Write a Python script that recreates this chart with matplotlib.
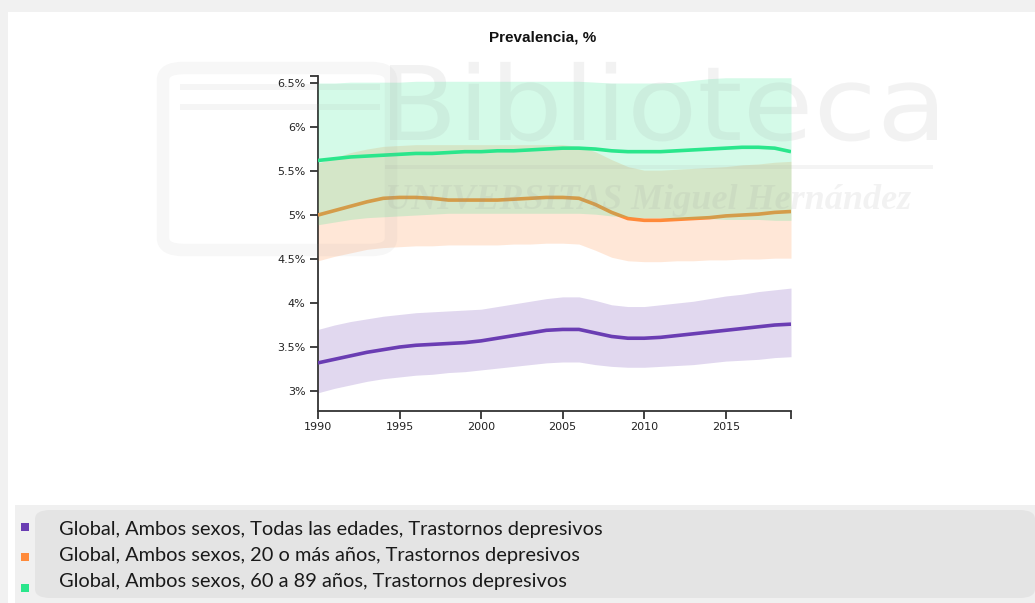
import matplotlib
matplotlib.use("Agg")
import matplotlib.pyplot as plt
from matplotlib.patches import FancyBboxPatch, Rectangle, PathPatch
from matplotlib.textpath import TextPath
from matplotlib.font_manager import FontProperties
from matplotlib.transforms import Affine2D
from matplotlib.ticker import FuncFormatter

# ---- data: GBD prevalence of depressive disorders (%), 1990-2019 ----
years = list(range(1990, 2020))

all_ages = [3.32, 3.36, 3.40, 3.44, 3.47, 3.50, 3.52, 3.53, 3.54, 3.55,
            3.57, 3.60, 3.63, 3.66, 3.69, 3.70, 3.70, 3.66, 3.62, 3.60,
            3.60, 3.61, 3.63, 3.65, 3.67, 3.69, 3.71, 3.73, 3.75, 3.76]
all_ages_hi = [3.70, 3.75, 3.79, 3.82, 3.85, 3.87, 3.89, 3.90, 3.91, 3.92,
               3.93, 3.96, 3.99, 4.02, 4.05, 4.07, 4.07, 4.03, 3.98, 3.96,
               3.96, 3.98, 4.00, 4.02, 4.05, 4.08, 4.10, 4.13, 4.15, 4.17]
all_ages_lo = [2.98, 3.03, 3.07, 3.11, 3.14, 3.16, 3.18, 3.19, 3.21, 3.22,
               3.24, 3.26, 3.28, 3.30, 3.32, 3.33, 3.33, 3.30, 3.28, 3.27,
               3.27, 3.28, 3.29, 3.30, 3.32, 3.34, 3.35, 3.36, 3.38, 3.39]

adults = [5.00, 5.05, 5.10, 5.15, 5.19, 5.20, 5.20, 5.19, 5.17, 5.17,
          5.17, 5.17, 5.18, 5.19, 5.20, 5.20, 5.19, 5.12, 5.03, 4.96,
          4.94, 4.94, 4.95, 4.96, 4.97, 4.99, 5.00, 5.01, 5.03, 5.04]
adults_hi = [5.59, 5.65, 5.71, 5.75, 5.78, 5.79, 5.80, 5.80, 5.80, 5.80,
             5.80, 5.80, 5.80, 5.80, 5.80, 5.80, 5.78, 5.72, 5.63, 5.55,
             5.51, 5.51, 5.52, 5.53, 5.54, 5.55, 5.57, 5.58, 5.60, 5.61]
adults_lo = [4.48, 4.53, 4.57, 4.61, 4.63, 4.64, 4.65, 4.65, 4.66, 4.66,
             4.66, 4.66, 4.67, 4.67, 4.68, 4.68, 4.67, 4.60, 4.52, 4.48,
             4.47, 4.47, 4.48, 4.48, 4.49, 4.49, 4.50, 4.50, 4.51, 4.51]

elderly = [5.62, 5.64, 5.66, 5.67, 5.68, 5.69, 5.70, 5.70, 5.71, 5.72,
           5.72, 5.73, 5.73, 5.74, 5.75, 5.76, 5.76, 5.75, 5.73, 5.72,
           5.72, 5.72, 5.73, 5.74, 5.75, 5.76, 5.77, 5.77, 5.76, 5.72]
elderly_hi = [6.50, 6.50, 6.51, 6.51, 6.51, 6.51, 6.52, 6.52, 6.52, 6.52,
              6.52, 6.52, 6.52, 6.52, 6.52, 6.52, 6.52, 6.51, 6.50, 6.50,
              6.50, 6.50, 6.51, 6.53, 6.55, 6.56, 6.56, 6.56, 6.56, 6.56]
elderly_lo = [4.89, 4.92, 4.95, 4.97, 4.98, 4.99, 5.00, 5.01, 5.02, 5.02,
              5.02, 5.02, 5.02, 5.02, 5.02, 5.02, 5.02, 5.01, 4.99, 4.98,
              4.97, 4.97, 4.96, 4.96, 4.96, 4.95, 4.95, 4.95, 4.94, 4.94]

series_labels = [
    "Global, Ambos sexos, Todas las edades, Trastornos depresivos",
    "Global, Ambos sexos, 20 o más años, Trastornos depresivos",
    "Global, Ambos sexos, 60 a 89 años, Trastornos depresivos",
]
series_colors = ["#6a3db3", "#ff8a3a", "#2ae68c"]
x_ticks = [1990, 1995, 2000, 2005, 2010, 2015]
y_ticks = [3.0, 3.5, 4.0, 4.5, 5.0, 5.5, 6.0, 6.5]
title = "Prevalencia, %"

# ---- figure ----
W, H = 1035, 603
fig = plt.figure(figsize=(W / 100, H / 100), dpi=100)
fig.patch.set_facecolor("white")

def px(x, y):
    return x / W, 1 - y / H

# page frame (light grey strip on top and left)
fig.add_artist(Rectangle((0, 1 - 12 / H), 1, 12 / H, transform=fig.transFigure,
                         facecolor="#f1f1f1", edgecolor="none", zorder=0))
fig.add_artist(Rectangle((0, 0), 8 / W, 1, transform=fig.transFigure,
                         facecolor="#f1f1f1", edgecolor="none", zorder=0))

ax = fig.add_axes([318 / W, 1 - 411 / H, (791 - 318) / W, (411 - 76) / H])
ax.set_facecolor("none")

data = [(all_ages, all_ages_lo, all_ages_hi),
        (adults, adults_lo, adults_hi),
        (elderly, elderly_lo, elderly_hi)]
z = 2
for (mid, lo, hi), col in zip(data, series_colors):
    ax.fill_between(years, lo, hi, color=col, alpha=0.2, linewidth=0, zorder=z)
    ax.plot(years, mid, color=col, lw=2.6, solid_capstyle="butt", zorder=z + 1)
    z += 2

ax.set_xlim(1990, 2019)
ax.set_ylim(2.773, 6.58)
ax.set_xticks(x_ticks + [2019])
ax.set_xticklabels([str(t) for t in x_ticks] + [""])
ax.set_yticks(y_ticks + [6.58])
ax.yaxis.set_major_formatter(FuncFormatter(
    lambda v, p: "" if v > 6.55 else (f"{v:g}%")))

for s in ["top", "right"]:
    ax.spines[s].set_visible(False)
for s in ["left", "bottom"]:
    ax.spines[s].set_color("#333333")
    ax.spines[s].set_linewidth(1.3)
ax.tick_params(axis="both", direction="out", length=6, width=1.3,
               color="#333333", labelsize=8, labelcolor="#222222", pad=3)
ax.tick_params(axis="x", pad=2)

# title
tx, ty = px(543, 38)
fig.text(tx, ty, title, ha="center", va="center", fontsize=11,
         fontweight="bold", family="Liberation Sans", color="#111111")

# legend panel
fig.add_artist(Rectangle(px(15, 603), (W - 15) / W, 98 / H, transform=fig.transFigure,
                         facecolor="#f0f0f0", edgecolor="none", zorder=1))
lx, ly = px(35, 598)
fig.add_artist(FancyBboxPatch((lx, ly), (W - 35) / W, 88 / H,
                              boxstyle="round,pad=0,rounding_size=0.015",
                              transform=fig.transFigure, facecolor="#e4e4e4",
                              edgecolor="none", zorder=2))
marker_y = [527, 557, 588]
for i, (lab, col) in enumerate(zip(series_labels, series_colors)):
    mx, my = px(21, marker_y[i] + 4)
    fig.add_artist(Rectangle((mx, my), 8 / W, 8 / H, transform=fig.transFigure,
                             facecolor=col, edgecolor="none", zorder=3))
    tx, ty = px(59, 529 + 26 * i)
    fig.text(tx, ty, lab, ha="left", va="center", fontsize=14.4,
             family="Lato", color="#1a1a1a", zorder=4)

# faint library watermark
wm = "#9a9a9a"
bx, by = px(163, 250)
fig.add_artist(FancyBboxPatch((bx, by), 228 / W, 182 / H,
                              boxstyle="round,pad=0,rounding_size=0.02",
                              transform=fig.transFigure, facecolor="none",
                              edgecolor=wm, lw=9, alpha=0.08, zorder=10))
for yy in (90, 110):
    ax0, ay0 = px(180, yy)
    fig.add_artist(Rectangle((ax0, ay0), 200 / W, 6 / H, transform=fig.transFigure,
                             facecolor=wm, edgecolor="none", alpha=0.09, zorder=10))

# "Biblioteca" stretched into its box: left 390, right 937, baseline 140, cap height 75 (px)
wm_path = TextPath((0, 0), "Biblioteca", size=100, prop=FontProperties(family="DejaVu Sans"))
cap = TextPath((0, 0), "B", size=100, prop=FontProperties(family="DejaVu Sans")).get_extents()
ext = wm_path.get_extents()
sx = (937 - 390) / ext.width / W
sy = 75 / cap.height / H
tr = Affine2D().translate(-ext.x0, 0).scale(sx, sy).translate(390 / W, 1 - 140 / H)
fig.add_artist(PathPatch(wm_path, transform=tr + fig.transFigure, facecolor=wm,
                         edgecolor="none", alpha=0.12, zorder=10))

lx0, ly0 = px(385, 169)
fig.add_artist(Rectangle((lx0, ly0), 548 / W, 4 / H, transform=fig.transFigure,
                         facecolor=wm, edgecolor="none", alpha=0.1, zorder=10))
wx, wy = px(385, 209)
fig.text(wx, wy, "UNIVERSITAS Miguel Hernández", fontsize=26, family="Liberation Serif",
         fontweight="bold", fontstyle="italic", color=wm, alpha=0.12,
         ha="left", va="baseline", zorder=10)

fig.savefig("out.png", dpi=100)
